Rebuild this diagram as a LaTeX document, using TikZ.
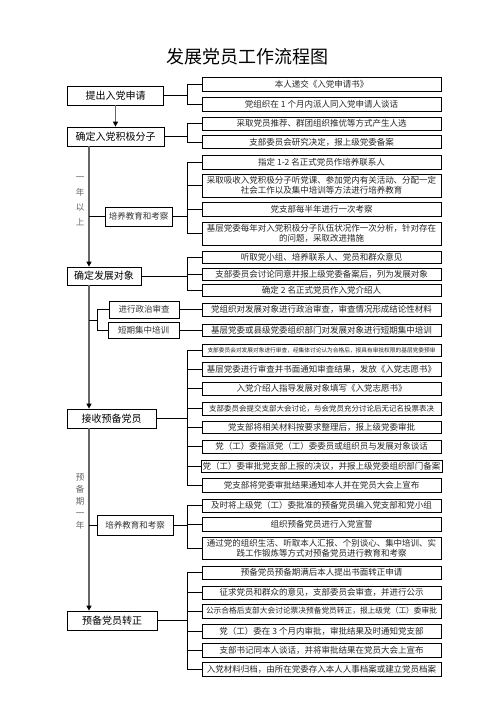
\documentclass[tikz,border=0pt]{standalone}
\usepackage{fontspec}
\setmainfont{Noto Sans CJK SC}
\usetikzlibrary{arrows.meta}
\newcommand\rowfont{\fontsize{8.5}{10.5}\selectfont}
\newcommand\tinyrow{\fontsize{5.7}{7}\selectfont}
\newcommand\smallrow{\fontsize{7.5}{9}\selectfont}

\begin{document}
\begin{tikzpicture}[x=1pt,y=-1pt,
    mainbox/.style={draw, line width=0.8pt, minimum height=19pt, inner sep=1pt, font=\fontsize{10}{12}\selectfont},
    subbox/.style={draw, line width=0.8pt, inner sep=1pt, font=\rowfont, text=black!80},
    itembox/.style={draw, line width=0.8pt, minimum width=239pt, inner sep=1.5pt, align=center, font=\rowfont, text=black!85},
    sidenote/.style={align=center, text=black!60, font=\fontsize{8.5}{15}\selectfont},
    link/.style={draw=black, line width=0.8pt},
    arr/.style={-{Triangle[length=5pt,width=5pt,color=black]}, line width=1.7pt, draw=black!60}
  ]
  \useasboundingbox (0,0) rectangle (496,702);
  \node[font=\fontsize{18}{20}\selectfont] (title) at (247,57) {发展党员工作流程图};

  % main steps
  \node[mainbox, minimum width=96pt] (apply) at (115.5,95.5) {提出入党申请};
  \node[mainbox, minimum width=97pt] (activist) at (115.5,136.5) {确定入党积极分子};
  \node[mainbox, minimum width=74pt, minimum height=18pt] (candidate) at (104,276) {确定发展对象};
  \node[mainbox, minimum width=89pt] (probation) at (111.5,418.5) {接收预备党员};
  \node[mainbox, minimum width=90pt] (fullmember) at (112,620.5) {预备党员转正};

  \node[subbox, minimum width=67pt, minimum height=19pt] (trainA) at (138.5,216.5) {培养教育和考察};
  \node[subbox, minimum width=70pt, minimum height=17pt] (review) at (144,309.5) {进行政治审查};
  \node[subbox, minimum width=71pt, minimum height=16pt] (course) at (143.5,330) {短期集中培训};
  \node[subbox, minimum width=76pt, minimum height=20pt] (trainB) at (135,525) {培养教育和考察};

  \node[sidenote] (yearA) at (80,201.5) {一\\年\\以\\上};
  \node[sidenote, font=\fontsize{8.5}{11.8}\selectfont] (yearB) at (80,501.5) {预\\备\\期\\一\\年};

  % detail rows
  \foreach \y/\h/\t [count=\i] in {84/14/{本人递交《入党申请书》}, 104/14/{党组织在 1 个月内派人同入党申请人谈话}}
    \node[itembox, minimum height=\h pt] (a\i) at (321.5,\y) {\t};
  \foreach \y/\h/\t [count=\i] in {123.5/13/{采取党员推荐、群团组织推优等方式产生人选}, 142/13/{支部委员会研究决定，报上级党委备案}}
    \node[itembox, minimum height=\h pt] (b\i) at (321.5,\y) {\t};
  \foreach \y/\h/\t [count=\i] in {162/14/{指定 1-2 名正式党员作培养联系人},
      185.5/23/{采取吸收入党积极分子听党课、参加党内有关活动、分配一定\\社会工作以及集中培训等方法进行培养教育},
      209/14/{党支部每半年进行一次考察},
      233.5/23/{基层党委每年对入党积极分子队伍状况作一次分析，针对存在\\的问题，采取改进措施}}
    \node[itembox, minimum height=\h pt] (c\i) at (321.5,\y) {\t};
  \foreach \y/\h/\t [count=\i] in {257.5/12/{听取党小组、培养联系人、党员和群众意见}, 274/12/{支部委员会讨论同意并报上级党委备案后，列为发展对象}, 290.5/11.5/{确定 2 名正式党员作入党介绍人}}
    \node[itembox, minimum height=\h pt] (d\i) at (321.5,\y) {\t};
  \node[itembox, minimum height=13pt] (rv) at (321.5,309.5) {党组织对发展对象进行政治审查，审查情况形成结论性材料};
  \node[itembox, minimum height=12pt] (cs) at (321.5,330) {基层党委或县级党委组织部门对发展对象进行短期集中培训};
  \foreach \y/\h/\t [count=\i] in {350/12/{\tinyrow 支部委员会对发展对象进行审查，经集体讨论认为合格后，报具有审批权限的基层党委预审},
      369/14/{基层党委进行审查并书面通知审查结果，发放《入党志愿书》},
      388.5/13/{入党介绍人指导发展对象填写《入党志愿书》},
      408.5/13/{\smallrow 支部委员会提交支部大会讨论，与会党员充分讨论后无记名投票表决},
      427/12/{党支部将相关材料按要求整理后，报上级党委审批},
      446.5/13/{党（工）委指派党（工）委委员或组织员与发展对象谈话},
      466/12/{党（工）委审批党支部上报的决议，并报上级党委组织部门备案},
      485/14/{党支部将党委审批结果通知本人并在党员大会上宣布}}
    \node[itembox, minimum height=\h pt] (f\i) at (321.5,\y) {\t};
  \foreach \y/\h/\t [count=\i] in {505.5/13/{及时将上级党（工）委批准的预备党员编入党支部和党小组},
      524/14/{组织预备党员进行入党宣誓},
      548/22/{通过党的组织生活、听取本人汇报、个别谈心、集中培训、实\\践工作锻炼等方式对预备党员进行教育和考察}}
    \node[itembox, minimum height=\h pt] (g\i) at (321.5,\y) {\t};
  \foreach \y/\h/\t [count=\i] in {572.5/13/{预备党员预备期满后本人提出书面转正申请},
      592.5/13/{征求党员和群众的意见，支部委员会审查，并进行公示},
      611/14/{\fontsize{7.7}{9}\selectfont 公示合格后支部大会讨论票决预备党员转正，报上级党（工）委审批},
      631/14/{党（工）委在 3 个月内审批，审批结果及时通知党支部},
      650/14/{支部书记同本人谈话，并将审批结果在党员大会上宣布},
      669/14/{入党材料归档，由所在党委存入本人人事档案或建立党员档案}}
    \node[itembox, minimum height=\h pt] (h\i) at (321.5,\y) {\t};

  % spine and brackets
  \coordinate (spine) at (89,0);
  \coordinate (bx) at (187,0);
  \coordinate (sx) at (97.5,0);
  \coordinate (smid) at (97.5,320);
  \draw[arr] (apply) -- (activist);
  \draw[arr] (activist.south -| spine) -- (candidate.north -| spine);
  \draw[arr] (candidate.south -| spine) -- (probation.north -| spine);
  \draw[arr] (probation.south -| spine) -- (fullmember.north -| spine);
  \draw[link] (trainA.west) -- (trainA.west -| spine);
  \draw[link] (trainB.west) -- (trainB.west -| spine);
  \draw[link] (review.west) -- (review.west -| sx) -- (course.west -| sx) -- (course.west);
  \draw[link] (smid) -- (smid -| spine);
  \draw[link] (review) -- (rv);
  \draw[link] (course) -- (cs);
  \foreach \g/\n/\m in {a/2/apply, b/2/activist, c/4/trainA, d/3/candidate, f/8/probation, g/3/trainB, h/6/fullmember} {
    \draw[link] (\m.east) -- (\m.east -| bx);
    \draw[link] (\g1.west -| bx) -- (\g\n.west -| bx);
    \foreach \i in {1,...,\n}
      \draw[link] (\g\i.west) -- (\g\i.west -| bx);
  }
\end{tikzpicture}
\end{document}
